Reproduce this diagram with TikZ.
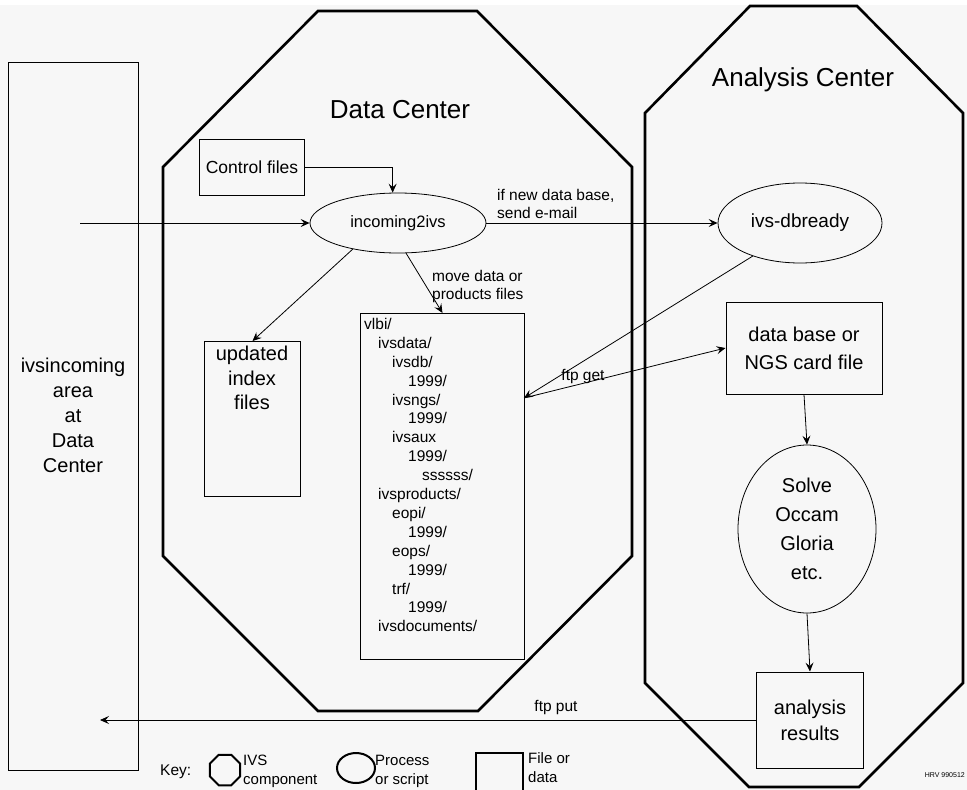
\documentclass[tikz,border=0pt]{standalone}
\usepackage{fontspec}
\setmainfont{Liberation Sans}
\usetikzlibrary{arrows.meta,shapes.geometric}
\definecolor{bgcol}{RGB}{247,247,247}
\begin{document}
\begin{tikzpicture}[x=1pt,y=-1pt,
  box/.style={draw, line width=1pt, inner sep=0pt},
  proc/.style={draw, ellipse, line width=0.8pt, inner sep=0pt},
  comp/.style={line width=2.6pt, line join=miter},
  arr/.style={-{Stealth[length=9pt,width=8pt,inset=3.5pt]}, line width=0.8pt},
  lbl/.style={font=\fontsize{15.5}{18.5}\selectfont, inner sep=0pt},
  big/.style={font=\fontsize{20}{25}\selectfont, inner sep=0pt, align=center},
  title/.style={font=\fontsize{26}{30}\selectfont, inner sep=0pt}]
\useasboundingbox (0,0) rectangle (967,790);
\fill[white] (0,0) rectangle (967,790);
\fill[bgcol] (0,5) rectangle (967,790);

% IVS components (octagons)
\draw[comp] (318,11)--(477,11)--(632,167)--(632,556)--(478,711)--(318,711)--(163,556)--(163,167)--cycle;
\draw[comp] (750,6)--(857,6)--(963,113)--(963,683)--(859,787)--(749,787)--(645,683)--(645,113)--cycle;
\node[title] (dctitle) at (400,110) {Data Center};
\node[title] (actitle) at (803,80) {Analysis Center};

% left incoming area
\node[box, minimum width=130pt, minimum height=708pt, anchor=north west] (inbox) at (8,62) {};
\node[big] (intext) at (73,415) {ivsincoming\\area\\at\\Data\\Center};

% data center content
\node[box, minimum width=105pt, minimum height=56pt, anchor=north west] (ctrl) at (199,139) {};
\node[font=\fontsize{17.5}{20}\selectfont, inner sep=0pt] (ctrltext) at (ctrl.center) {Control files};
\node[proc, minimum width=176pt, minimum height=60pt, font=\fontsize{16.5}{20}\selectfont] (inc) at (398,223) {incoming2ivs};
\node[box, minimum width=96pt, minimum height=155pt, anchor=north west] (upd) at (204,341) {};
\node[big, anchor=north, font=\fontsize{20}{24.5}\selectfont] (updtext) at (252,346) {updated\\index\\files};
\node[box, minimum width=164pt, minimum height=346pt, anchor=north west] (vlbi) at (360,313) {};
\node[anchor=north west, align=left, inner sep=0pt, font=\fontsize{15.5}{18.9}\selectfont] (tree) at (364,318)
 {vlbi/\\
  \hspace*{14pt}ivsdata/\\
  \hspace*{28pt}ivsdb/\\
  \hspace*{44pt}1999/\\
  \hspace*{28pt}ivsngs/\\
  \hspace*{44pt}1999/\\
  \hspace*{28pt}ivsaux\\
  \hspace*{44pt}1999/\\
  \hspace*{58pt}ssssss/\\
  \hspace*{14pt}ivsproducts/\\
  \hspace*{28pt}eopi/\\
  \hspace*{44pt}1999/\\
  \hspace*{28pt}eops/\\
  \hspace*{44pt}1999/\\
  \hspace*{28pt}trf/\\
  \hspace*{44pt}1999/\\
  \hspace*{14pt}ivsdocuments/};

% analysis center content
\node[proc, minimum width=164pt, minimum height=80pt, font=\fontsize{19}{22}\selectfont] (dbready) at (800,223) {ivs-dbready};
\node[box, minimum width=156pt, minimum height=92pt, big, font=\fontsize{20}{28}\selectfont] (db) at (804,348) {data base or\\NGS card file};
\node[proc, minimum width=138pt, minimum height=168pt, align=center, font=\fontsize{20}{29}\selectfont] (solve) at (807,529) {Solve\\Occam\\Gloria\\etc.};
\node[box, minimum width=107pt, minimum height=96pt, big, font=\fontsize{20}{26}\selectfont] (res) at (810,720) {analysis\\results};

% connectors
\coordinate (instart) at (80,223);
\coordinate (vget) at (524,398);
\coordinate (putend) at (100,720);
\draw[arr] (instart) -- (inc.west);
\draw[arr] (ctrl.east) -| (inc.100);
\draw[arr] (inc.east) -- (dbready.west);
\node[lbl, anchor=north west, align=left] (maillbl) at (497,189) {if new data base,\\send e-mail};
\draw[arr] (inc.210) -- (upd.north);
\draw[arr] (inc.285) -- (vlbi.north);
\node[lbl, anchor=north west, align=left] (movelbl) at (432,270) {move data or\\products files};
\draw[arr] (dbready.215) -- (vget);
\draw[arr] (vget) -- (db.west);
\node[lbl] (getlbl) at (583,376) {ftp get};
\draw[arr] (db.south) -- (solve.north);
\draw[arr] (solve.south) -- (res.north);
\draw[arr] (res.west) -- (putend);
\node[lbl] (putlbl) at (556,707) {ftp put};

% key
\node[lbl, anchor=west] (keylbl) at (160,772) {Key:};
\node[draw, regular polygon, regular polygon sides=8, line width=2pt, minimum size=33pt, inner sep=0pt] (keyoct) at (225,770) {};
\node[lbl, anchor=north west, align=left, font=\fontsize{15}{19}\selectfont] (keyoctlbl) at (243,755) {IVS\\component};
\node[proc, line width=2pt, minimum width=38pt, minimum height=30pt] (keyell) at (356,768) {};
\node[lbl, anchor=north west, align=left, font=\fontsize{15}{19}\selectfont] (keyelllbl) at (375,755) {Process\\or script};
\node[box, line width=2pt, minimum width=47pt, minimum height=48pt, anchor=north west] (keybox) at (475,752) {};
\node[lbl, anchor=north west, align=left, font=\fontsize{15}{19}\selectfont] (keyboxlbl) at (528,752) {File or\\data};
\node[anchor=east, inner sep=0pt, font=\fontsize{7}{8}\selectfont] (hrv) at (965,775) {HRV 990512};
\end{tikzpicture}
\end{document}
